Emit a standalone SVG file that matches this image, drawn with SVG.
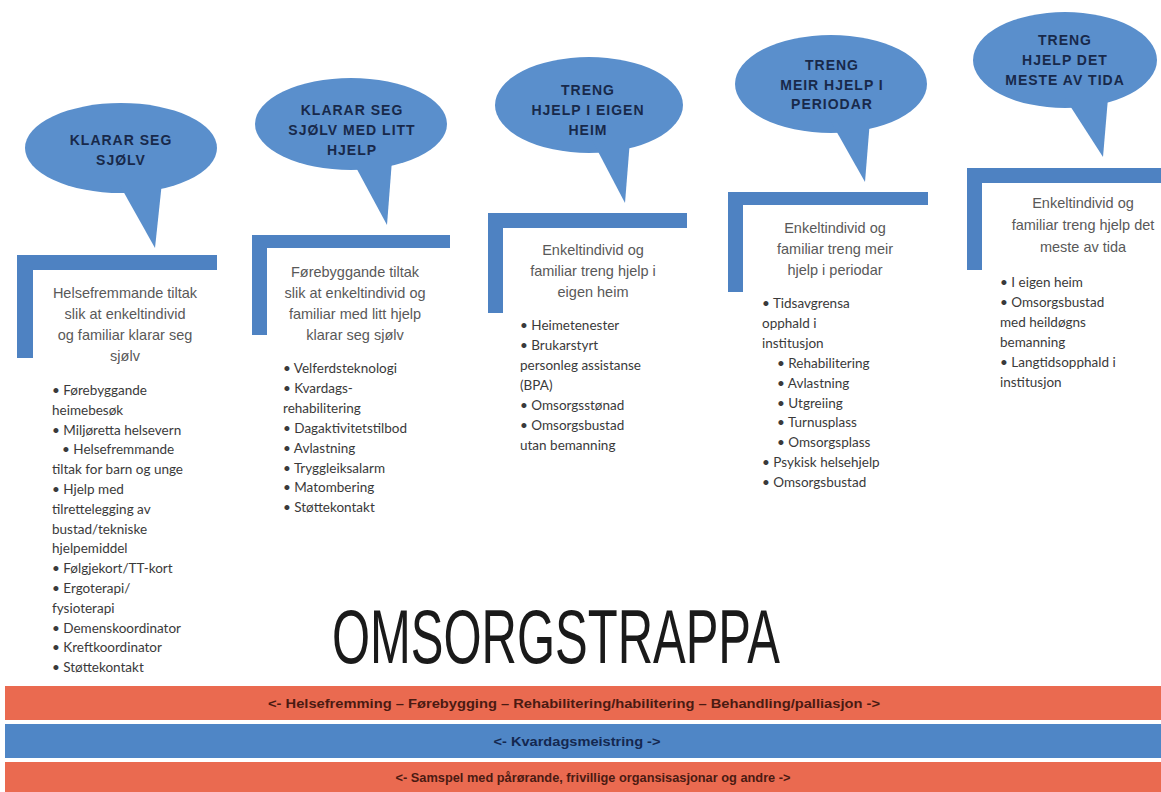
<svg xmlns="http://www.w3.org/2000/svg" width="1161" height="792" viewBox="0 0 1161 792">
<style>
.bub{fill:#5A8FCC}
.brk{fill:#4E82C2}
.bt{font-family:"Liberation Sans",Arial,sans-serif;font-weight:bold;font-size:14px;letter-spacing:1px;fill:#18294A;text-anchor:middle}
.hd{font-family:"Liberation Sans",Arial,sans-serif;font-size:14.5px;fill:#595959;text-anchor:middle}
.li{font-family:Lato,"Open Sans",sans-serif;font-size:13.5px;fill:#3a3a3a}
.bar1{fill:#EA6A50}
.bar2{fill:#4F86C6}
.bx{font-family:"Liberation Sans Narrow","Liberation Sans",Arial,sans-serif;font-weight:bold;font-size:13px;text-anchor:middle}
</style>
<rect width="1161" height="792" fill="#ffffff"/>
<g id="connectors"></g>

<g id="step1">
  <ellipse class="bub" cx="121" cy="148" rx="96" ry="45"/>
  <polygon class="bub" points="118,182 162,182 155,248"/>
  <text class="bt" x="121" y="145">KLARAR SEG</text>
  <text class="bt" x="121" y="165">SJØLV</text>
  <rect class="brk" x="17" y="255" width="200" height="15"/>
  <rect class="brk" x="17" y="255" width="16" height="103"/>
  <text class="hd" x="125" y="298">Helsefremmande tiltak</text>
  <text class="hd" x="125" y="319">slik at enkeltindivid</text>
  <text class="hd" x="125" y="340">og familiar klarar seg</text>
  <text class="hd" x="125" y="361">sjølv</text>
  <text class="li" x="52" y="395">• Førebyggande</text>
  <text class="li" x="52" y="414.8">heimebesøk</text>
  <text class="li" x="52" y="434.6">• Miljøretta helsevern</text>
  <text class="li" x="62" y="454.4">• Helsefremmande</text>
  <text class="li" x="52" y="474.2">tiltak for barn og unge</text>
  <text class="li" x="52" y="494">• Hjelp med</text>
  <text class="li" x="52" y="513.8">tilrettelegging av</text>
  <text class="li" x="52" y="533.6">bustad/tekniske</text>
  <text class="li" x="52" y="553.4">hjelpemiddel</text>
  <text class="li" x="52" y="573.2">• Følgjekort/TT-kort</text>
  <text class="li" x="52" y="593">• Ergoterapi/</text>
  <text class="li" x="52" y="612.8">fysioterapi</text>
  <text class="li" x="52" y="632.6">• Demenskoordinator</text>
  <text class="li" x="52" y="652.4">• Kreftkoordinator</text>
  <text class="li" x="52" y="672.2">• Støttekontakt</text>
</g>

<g id="step2">
  <ellipse class="bub" cx="351" cy="124" rx="96" ry="46"/>
  <polygon class="bub" points="352,160 392,160 387,225"/>
  <text class="bt" x="352" y="115">KLARAR SEG</text>
  <text class="bt" x="352" y="135">SJØLV MED LITT</text>
  <text class="bt" x="352" y="155">HJELP</text>
  <rect class="brk" x="252" y="235" width="198" height="13"/>
  <rect class="brk" x="252" y="235" width="15" height="100"/>
  <text class="hd" x="355" y="277">Førebyggande tiltak</text>
  <text class="hd" x="355" y="298">slik at enkeltindivid og</text>
  <text class="hd" x="355" y="319">familiar med litt hjelp</text>
  <text class="hd" x="355" y="340">klarar seg sjølv</text>
  <text class="li" x="283" y="373">• Velferdsteknologi</text>
  <text class="li" x="283" y="392.9">• Kvardags-</text>
  <text class="li" x="283" y="412.8">rehabilitering</text>
  <text class="li" x="283" y="432.7">• Dagaktivitetstilbod</text>
  <text class="li" x="283" y="452.6">• Avlastning</text>
  <text class="li" x="283" y="472.5">• Tryggleiksalarm</text>
  <text class="li" x="283" y="492.4">• Matombering</text>
  <text class="li" x="283" y="512.3">• Støttekontakt</text>
</g>

<g id="step3">
  <ellipse class="bub" cx="589" cy="105" rx="94" ry="48"/>
  <polygon class="bub" points="592,140 630,140 625,203"/>
  <text class="bt" x="588" y="95">TRENG</text>
  <text class="bt" x="588" y="115">HJELP I EIGEN</text>
  <text class="bt" x="588" y="135">HEIM</text>
  <rect class="brk" x="488" y="213" width="199" height="15"/>
  <rect class="brk" x="488" y="213" width="15" height="100"/>
  <text class="hd" x="593" y="255">Enkeltindivid og</text>
  <text class="hd" x="593" y="276">familiar treng hjelp i</text>
  <text class="hd" x="593" y="297">eigen heim</text>
  <text class="li" x="520" y="330">• Heimetenester</text>
  <text class="li" x="520" y="350">• Brukarstyrt</text>
  <text class="li" x="520" y="370">personleg assistanse</text>
  <text class="li" x="520" y="390">(BPA)</text>
  <text class="li" x="520" y="410">• Omsorgsstønad</text>
  <text class="li" x="520" y="430">• Omsorgsbustad</text>
  <text class="li" x="520" y="450">utan bemanning</text>
</g>

<g id="step4">
  <ellipse class="bub" cx="831" cy="84" rx="96" ry="49"/>
  <polygon class="bub" points="830,120 870,120 865,182"/>
  <text class="bt" x="832" y="70">TRENG</text>
  <text class="bt" x="832" y="90">MEIR HJELP I</text>
  <text class="bt" x="832" y="109">PERIODAR</text>
  <rect class="brk" x="728" y="192" width="200" height="13"/>
  <rect class="brk" x="728" y="192" width="15" height="100"/>
  <text class="hd" x="835" y="233">Enkeltindivid og</text>
  <text class="hd" x="835" y="254">familiar treng meir</text>
  <text class="hd" x="835" y="275">hjelp i periodar</text>
  <text class="li" x="762" y="308">• Tidsavgrensa</text>
  <text class="li" x="762" y="327.9">opphald i</text>
  <text class="li" x="762" y="347.8">institusjon</text>
  <text class="li" x="777" y="367.7">• Rehabilitering</text>
  <text class="li" x="777" y="387.6">• Avlastning</text>
  <text class="li" x="777" y="407.5">• Utgreiing</text>
  <text class="li" x="777" y="427.4">• Turnusplass</text>
  <text class="li" x="777" y="447.3">• Omsorgsplass</text>
  <text class="li" x="762" y="467.2">• Psykisk helsehjelp</text>
  <text class="li" x="762" y="487.1">• Omsorgsbustad</text>
</g>

<g id="step5">
  <ellipse class="bub" cx="1065" cy="60" rx="92" ry="48"/>
  <polygon class="bub" points="1065,98 1108,98 1103,157"/>
  <text class="bt" x="1065" y="45">TRENG</text>
  <text class="bt" x="1065" y="65">HJELP DET</text>
  <text class="bt" x="1065" y="85">MESTE AV TIDA</text>
  <rect class="brk" x="967" y="168" width="194" height="15"/>
  <rect class="brk" x="967" y="168" width="15" height="102"/>
  <text class="hd" x="1083" y="208">Enkeltindivid og</text>
  <text class="hd" x="1083" y="230">familiar treng hjelp det</text>
  <text class="hd" x="1083" y="252">meste av tida</text>
  <text class="li" x="1000" y="287">• I eigen heim</text>
  <text class="li" x="1000" y="307">• Omsorgsbustad</text>
  <text class="li" x="1000" y="327">med heildøgns</text>
  <text class="li" x="1000" y="347">bemanning</text>
  <text class="li" x="1000" y="367">• Langtidsopphald i</text>
  <text class="li" x="1000" y="387">institusjon</text>
</g>

<g id="title">
  <text x="332" y="663" font-family="'Liberation Sans Narrow','Liberation Sans',Arial,sans-serif" font-size="76" fill="#1a1a1a" textLength="448" lengthAdjust="spacingAndGlyphs">OMSORGSTRAPPA</text>
</g>

<g id="bars">
  <rect class="bar1" x="5" y="686" width="1156" height="34"/>
  <text class="bx" x="574" y="708" fill="#4a1a12" textLength="612" lengthAdjust="spacingAndGlyphs">&lt;- Helsefremming – Førebygging – Rehabilitering/habilitering – Behandling/palliasjon -&gt;</text>
  <rect class="bar2" x="5" y="724" width="1156" height="34"/>
  <text class="bx" x="577" y="746" fill="#142850" textLength="167" lengthAdjust="spacingAndGlyphs">&lt;- Kvardagsmeistring -&gt;</text>
  <rect class="bar1" x="5" y="762" width="1156" height="30"/>
  <text class="bx" x="593" y="782" fill="#4a1a12" textLength="395" lengthAdjust="spacingAndGlyphs">&lt;- Samspel med pårørande, frivillige organsisasjonar og andre -&gt;</text>
</g>
</svg>
